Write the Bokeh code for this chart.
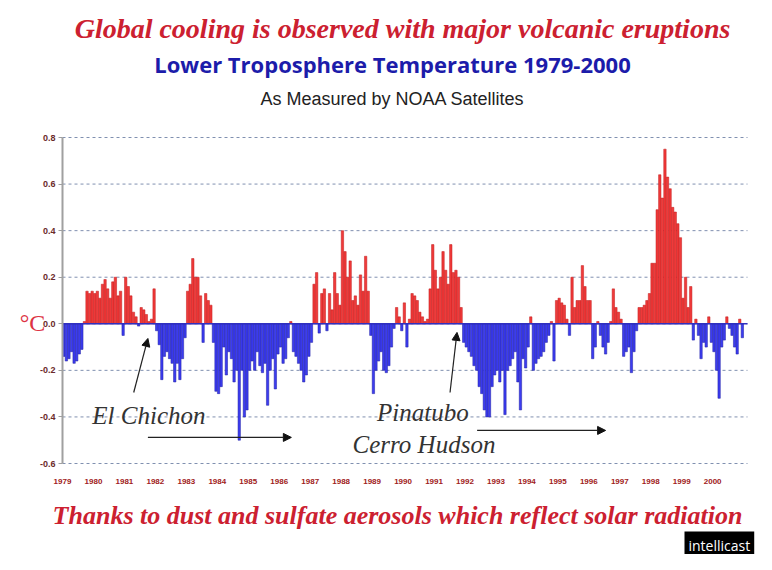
from bokeh.plotting import figure
from bokeh.models import Range1d, FixedTicker, Label, Arrow, NormalHead, ColumnDataSource, PrintfTickFormatter
from bokeh.embed import file_html
from bokeh.resources import INLINE

years = list(range(1979, 2001))
y1979 = [-0.14, -0.16, -0.15, -0.12, -0.17, -0.16, -0.13, -0.11, 0.01, 0.14, 0.13, 0.14]
y1980 = [0.13, 0.14, 0.11, 0.17, 0.19, 0.15, 0.11, 0.18, 0.20, 0.12, 0.14, -0.05]
y1981 = [0.20, 0.16, 0.12, 0.05, 0.03, -0.01, 0.07, 0.06, 0.04, 0.01, 0.02, 0.15]
y1982 = [-0.03, -0.09, -0.24, -0.14, -0.12, -0.15, -0.17, -0.25, -0.17, -0.24, -0.15, -0.06]
y1983 = [0.14, 0.17, 0.28, 0.20, 0.20, 0.12, -0.08, 0.13, 0.10, 0.08, -0.08, -0.29]
y1984 = [-0.30, -0.27, -0.10, -0.22, -0.12, -0.15, -0.25, -0.20, -0.50, -0.20, -0.40, -0.37]
y1985 = [-0.20, -0.16, -0.20, -0.12, -0.18, -0.21, -0.17, -0.35, -0.20, -0.15, -0.28, -0.13]
y1986 = [-0.10, -0.17, -0.15, -0.06, 0.01, -0.12, -0.14, -0.17, -0.20, -0.25, -0.22, -0.14]
y1987 = [-0.08, 0.17, 0.22, -0.04, 0.13, 0.15, -0.03, 0.13, 0.06, 0.22, 0.13, 0.08]
y1988 = [0.40, 0.31, 0.20, 0.27, 0.10, 0.12, 0.08, 0.21, 0.14, 0.29, 0.14, -0.05]
y1989 = [-0.30, -0.20, -0.16, -0.12, -0.20, -0.21, -0.18, -0.10, -0.02, 0.07, 0.03, -0.03]
y1990 = [0.09, -0.10, 0.02, 0.13, 0.12, 0.10, 0.05, 0.03, 0.01, 0.02, 0.15, 0.34]
y1991 = [0.23, 0.15, 0.20, 0.31, 0.23, 0.17, 0.34, 0.22, 0.23, 0.20, 0.07, -0.08]
y1992 = [-0.10, -0.12, -0.14, -0.18, -0.20, -0.27, -0.30, -0.37, -0.40, -0.40, -0.27, -0.22]
y1993 = [-0.20, -0.25, -0.20, -0.39, -0.20, -0.18, -0.15, -0.12, -0.25, -0.37, -0.15, -0.19]
y1994 = [-0.10, 0.03, -0.20, -0.17, -0.15, -0.14, -0.12, -0.08, -0.05, 0.01, -0.16, 0.10]
y1995 = [0.11, 0.09, 0.08, 0.02, -0.05, 0.20, 0.07, 0.10, 0.10, 0.25, 0.16, 0.10]
y1996 = [0.10, -0.15, -0.10, 0.01, -0.05, -0.10, -0.13, -0.08, 0.01, 0.15, 0.07, 0.05]
y1997 = [0.02, -0.14, -0.12, -0.10, -0.21, -0.12, -0.03, 0.07, 0.07, 0.08, 0.10, 0.13]
y1998 = [0.26, 0.26, 0.49, 0.64, 0.54, 0.75, 0.63, 0.58, 0.50, 0.48, 0.43, 0.37]
y1999 = [0.11, 0.20, 0.07, 0.16, -0.07, 0.02, -0.05, -0.15, -0.08, -0.10, 0.03, -0.08]
y2000 = [-0.12, -0.20, -0.32, -0.10, -0.07, 0.03, -0.02, -0.05, -0.10, -0.13, 0.02, -0.06]

yearly = [y1979, y1980, y1981, y1982, y1983, y1984, y1985, y1986, y1987, y1988, y1989,
          y1990, y1991, y1992, y1993, y1994, y1995, y1996, y1997, y1998, y1999, y2000]
anomaly = [v for yr in yearly for v in yr]
month_idx = [i + 0.5 for i in range(len(anomaly))]
fills = ["#f03a3a" if v >= 0 else "#3c3cf0" for v in anomaly]
lines = ["#c01818" if v >= 0 else "#1c1ca0" for v in anomaly]

y_ticks = [-0.6, -0.4, -0.2, 0.0, 0.2, 0.4, 0.6, 0.8]
year_ticks = [12 * i for i in range(len(years))]
year_labels = {12 * i: str(y) for i, y in enumerate(years)}

X0, X1 = 0.0, 265.5      # plotted months
Y0, Y1 = -0.6, 0.8       # plotted anomaly range
W, H = 756, 554
# chart area in canvas pixels
L, R, T, B = 62, 747, 137, 463
sx = (X1 - X0) / (R - L)
sy = (Y1 - Y0) / (B - T)
xr = Range1d(X0 - L * sx, X1 + (W - R) * sx)
yr = Range1d(Y0 - (H - B) * sy, Y1 + T * sy)

p = figure(width=W, height=H, output_backend="svg", toolbar_location=None,
           x_range=xr, y_range=yr, min_border=0)
p.outline_line_color = None
p.background_fill_color = "white"
p.border_fill_color = "white"
p.xgrid.visible = False
p.ygrid.visible = False

# dashed horizontal guide lines at the y ticks, limited to the chart area
p.segment(x0=[X0] * len(y_ticks), x1=[X1] * len(y_ticks), y0=y_ticks, y1=y_ticks,
          line_color="#8090b0", line_dash="3 3", line_width=1)

src = ColumnDataSource(dict(x=month_idx, top=anomaly, fill=fills, line=lines))
p.vbar(x="x", top="top", bottom=0, width=0.92, fill_color="fill", line_color="line",
       line_width=0.5, source=src)

p.segment(x0=[X0], x1=[X1], y0=[0], y1=[0], line_color="#3030c0", line_width=1.5)

p.yaxis.fixed_location = X0
p.yaxis.bounds = (Y0, Y1)
p.yaxis.ticker = FixedTicker(ticks=y_ticks)
p.yaxis.formatter = PrintfTickFormatter(format="%.1f")
p.yaxis.axis_line_color = "#a0a0a0"
p.yaxis.axis_line_width = 2
p.yaxis.major_tick_line_color = "#a0a0a0"
p.yaxis.major_tick_out = 4
p.yaxis.major_tick_in = 0
p.yaxis.minor_tick_line_color = None
p.yaxis.major_label_text_font = "Liberation Sans"
p.yaxis.major_label_text_font_style = "bold"
p.yaxis.major_label_text_font_size = "9px"
p.yaxis.major_label_text_color = "#6b2a2a"
p.yaxis.major_label_standoff = 3

p.xaxis.fixed_location = Y0
p.xaxis.bounds = (X0, X1)
p.xaxis.ticker = FixedTicker(ticks=year_ticks)
p.xaxis.major_label_overrides = year_labels
p.xaxis.axis_line_color = None
p.xaxis.major_tick_line_color = None
p.xaxis.minor_tick_line_color = None
p.xaxis.major_label_text_font = "Liberation Sans"
p.xaxis.major_label_text_font_style = "bold"
p.xaxis.major_label_text_font_size = "8px"
p.xaxis.major_label_text_color = "#a02020"
p.xaxis.major_label_standoff = 9

def scr(text, px, py, size, color, font, style="normal", align="center", baseline="middle", **kw):
    # px, py: canvas pixel position from the top-left corner
    p.add_layout(Label(x=px, y=H - py, x_units="screen", y_units="screen", text=text,
                       text_font=font, text_font_size=size, text_font_style=style,
                       text_color=color, text_align=align, text_baseline=baseline, **kw))

scr("Global cooling is observed with major volcanic eruptions", 402, 28, "28px", "#cc2030",
    "Liberation Serif", "bold italic")
scr("Lower Troposphere Temperature 1979-2000", 392, 63, "22px", "#1c1caa", "Open Sans", "bold")
scr("As Measured by NOAA Satellites", 392, 98, "18px", "#222222", "Liberation Sans")
scr("Thanks to dust and sulfate aerosols which reflect solar radiation", 397, 515, "26px",
    "#cc2030", "Liberation Serif", "bold italic")
scr("°C", 32, 322, "24px", "#dd3344", "Liberation Serif")
scr("intellicast", 684, 531, "14px", "white", "Open Sans", align="left", baseline="top",
    background_fill_color="black", padding=4)

def dlabel(text, x, y):
    p.add_layout(Label(x=x, y=y, text=text, text_font="Liberation Serif", text_font_size="25px",
                       text_font_style="italic", text_color="#333333", text_align="center",
                       text_baseline="middle"))

dlabel("El Chichon", 33.5, -0.394)
dlabel("Pinatubo", 139.7, -0.381)
dlabel("Cerro Hudson", 140.1, -0.518)

def arrow(x0, y0, x1, y1):
    p.add_layout(Arrow(x_start=x0, y_start=y0, x_end=x1, y_end=y1, line_color="#222222",
                       line_width=1.2, end=NormalHead(size=8, fill_color="#111111",
                                                       line_color="#111111")))

arrow(27.6, -0.295, 33.1, -0.063)
arrow(33.1, -0.488, 88.7, -0.488)
arrow(150.2, -0.295, 152.9, -0.037)
arrow(160.7, -0.458, 210.5, -0.458)

open("out.html", "w").write(file_html(p, INLINE))
